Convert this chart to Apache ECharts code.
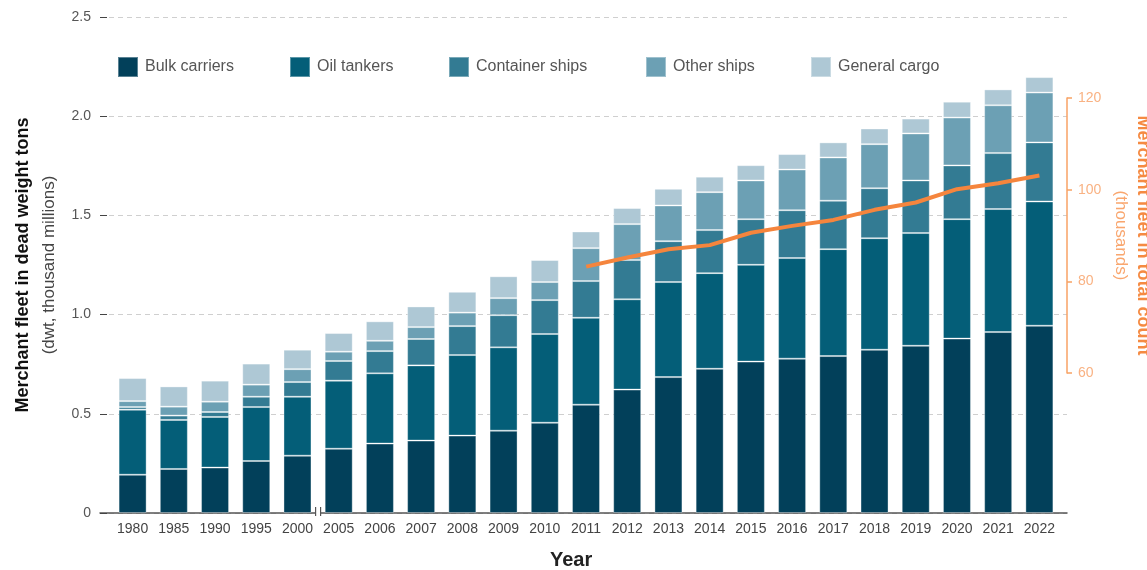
<!DOCTYPE html>
<html>
<head>
<meta charset="utf-8">
<script src="https://cdn.jsdelivr.net/npm/echarts@6/dist/echarts.min.js"></script>
<style>
html,body{margin:0;padding:0;background:#fff;}
#chart{width:1147px;height:570px;}
</style>
</head>
<body>
<div id="chart"></div>
<script>
// ---- Data ----
var years = ['1980','1985','1990','1995','2000','2005','2006','2007','2008','2009','2010','2011','2012','2013','2014','2015','2016','2017','2018','2019','2020','2021','2022'];
var bulkCarriers = [0.193,0.222,0.229,0.262,0.289,0.324,0.350,0.365,0.390,0.415,0.455,0.546,0.622,0.685,0.727,0.763,0.778,0.791,0.823,0.843,0.879,0.912,0.944];
var oilTankers   = [0.328,0.247,0.255,0.272,0.297,0.343,0.354,0.379,0.406,0.420,0.447,0.438,0.455,0.479,0.482,0.488,0.507,0.539,0.562,0.568,0.602,0.620,0.626];
var containerShips = [0.013,0.022,0.025,0.052,0.074,0.099,0.112,0.133,0.146,0.162,0.171,0.185,0.198,0.206,0.217,0.230,0.241,0.244,0.252,0.265,0.271,0.282,0.298];
var otherShips   = [0.030,0.045,0.052,0.061,0.065,0.047,0.052,0.060,0.068,0.086,0.091,0.166,0.181,0.180,0.191,0.195,0.205,0.218,0.222,0.237,0.241,0.241,0.251];
var generalCargo = [0.116,0.102,0.106,0.106,0.098,0.094,0.098,0.104,0.105,0.110,0.111,0.084,0.081,0.084,0.078,0.077,0.078,0.076,0.079,0.075,0.080,0.080,0.078];
// total count (thousands), available from 2011
var fleetCount = [null,null,null,null,null,null,null,null,null,null,null,83.2,85.2,87.0,87.9,90.6,92.1,93.4,95.6,97.2,100.1,101.4,103.1];
var leftTicks = [0, 0.5, 1.0, 1.5, 2.0, 2.5];
var rightTicks = [60, 80, 100, 120];

var seriesNames = ['Bulk carriers','Oil tankers','Container ships','Other ships','General cargo'];
var seriesValues = [bulkCarriers, oilTankers, containerShips, otherShips, generalCargo];
var colors = ['#02405a','#045e78','#337b93','#6ca0b4','#aec8d5'];
var legendLeft = [117, 289, 448, 645, 810];

var FONT = 'Liberation Sans, Arial, Helvetica, sans-serif';
var XMIN = -0.8, XMAX = 22.67;

var chart = echarts.init(document.getElementById('chart'), null, {renderer:'canvas'});

var series = seriesNames.map(function(name, k){
  return {
    name: name, type: 'bar', stack: 'dwt',
    xAxisIndex: 1, yAxisIndex: 1,
    barWidth: 28,
    itemStyle: { color: colors[k], borderColor: 'rgba(255,255,255,0.35)', borderWidth: 1 },
    emphasis: { disabled: true },
    data: seriesValues[k]
  };
});
series.push({
  name: 'Merchant fleet count', type: 'line',
  xAxisIndex: 2, yAxisIndex: 2,
  symbol: 'none', smooth: false,
  lineStyle: { color: '#f5853d', width: 4 },
  emphasis: { disabled: true },
  data: fleetCount.map(function(v, i){ return [i, v]; }).filter(function(p){ return p[1] !== null; })
});

var option = {
  animation: false,
  textStyle: { fontFamily: FONT },
  title: {
    text: 'Year', left: 545, top: 545,
    textStyle: { fontSize: 20, fontWeight: 'bold', color: '#222', fontFamily: FONT }
  },
  legend: seriesNames.map(function(name, k){
    return {
      data: [name], left: legendLeft[k], top: 56, padding: 0,
      itemWidth: 20, itemHeight: 20, itemGap: 0,
      icon: 'rect',
      selectedMode: false,
      textStyle: { fontSize: 16, color: '#555', fontFamily: FONT, padding: [0,0,0,2] }
    };
  }),
  grid: [
    // frame grid: gridlines, left axis, baseline
    { left: 100, right: 80, top: 17, bottom: 57, containLabel: false, outerBoundsMode: 'none' },
    // bar grid: category band area
    { left: 112, right: 87, top: 17, bottom: 57, containLabel: false, outerBoundsMode: 'none' },
    // count grid: right axis 60-120
    { left: 100, right: 80, top: 98, bottom: 197, containLabel: false, outerBoundsMode: 'none' }
  ],
  xAxis: [
    {
      type: 'value', gridIndex: 0, min: 0, max: 1,
      axisLine: { show: true, onZero: false, lineStyle: { color: '#555', width: 1.5 } },
      axisTick: { show: false }, splitLine: { show: false }, axisLabel: { show: false }
    },
    {
      type: 'category', gridIndex: 1, data: years,
      axisLine: { show: false }, axisTick: { show: false }, splitLine: { show: false },
      axisLabel: { show: true, interval: 0, margin: 9, fontSize: 14, color: '#444', fontFamily: FONT }
    },
    {
      type: 'value', gridIndex: 2, min: XMIN, max: XMAX, show: false
    }
  ],
  yAxis: [
    {
      type: 'value', gridIndex: 0, min: 0, max: 2.5, interval: 0.5,
      axisLine: { show: false, onZero: false },
      axisTick: { show: true, inside: true, length: 7, lineStyle: { color: '#444', width: 1 } },
      splitLine: { show: true, lineStyle: { color: '#cfcfcf', type: [5,4], width: 1 } },
      axisLabel: {
        margin: 9, fontSize: 14, color: '#555', fontFamily: FONT,
        formatter: function(v){ return v === 0 ? '0' : v.toFixed(1); }
      },
      name: '{b|Merchant fleet in dead weight tons}\n{n|(dwt, thousand millions)}',
      nameLocation: 'middle', nameRotate: 90, nameGap: 38,
      nameTextStyle: {
        align: 'center',
        rich: {
          b: { fontSize: 18, fontWeight: 'bold', color: '#111', fontFamily: FONT, lineHeight: 26, align: 'center' },
          n: { fontSize: 17, color: '#444', fontFamily: FONT, lineHeight: 26, align: 'center' }
        }
      }
    },
    {
      type: 'value', gridIndex: 1, min: 0, max: 2.5, show: false,
      splitLine: { show: false }
    },
    {
      type: 'value', gridIndex: 2, position: 'right', min: 60, max: 120, interval: 20,
      axisLine: { show: true, onZero: false, lineStyle: { color: '#f8a264', width: 1.5 } },
      axisTick: { show: true, inside: false, length: 5, lineStyle: { color: '#f8a264', width: 1.5 } },
      splitLine: { show: false },
      axisLabel: { margin: 11, fontSize: 14, color: '#f9b283', fontFamily: FONT },
      name: '{b|Merchant fleet in total count}\n{n|(thousands)}',
      nameLocation: 'middle', nameRotate: -90, nameGap: 31,
      nameTextStyle: {
        align: 'center',
        rich: {
          b: { fontSize: 18, fontWeight: 'bold', color: '#f58a42', fontFamily: FONT, lineHeight: 22, align: 'center' },
          n: { fontSize: 17, color: '#f9a66e', fontFamily: FONT, lineHeight: 22, align: 'center' }
        }
      }
    }
  ],
  series: series
};

chart.setOption(option);

// axis break marker between 2000 and 2005, positioned via the axis scale
var x2000 = chart.convertToPixel({ xAxisIndex: 1 }, '2000');
var x2005 = chart.convertToPixel({ xAxisIndex: 1 }, '2005');
var bx = (x2000 + x2005) / 2;
var by = chart.convertToPixel({ yAxisIndex: 0 }, 0);
chart.setOption({
  graphic: [
    { type: 'rect', shape: { x: bx - 2.5, y: by - 3, width: 5, height: 6 }, style: { fill: '#fff' }, z: 100 },
    { type: 'line', shape: { x1: bx - 2.5, y1: by - 6, x2: bx - 2.5, y2: by + 3 }, style: { stroke: '#555', lineWidth: 1.2 }, z: 101 },
    { type: 'line', shape: { x1: bx + 2.5, y1: by - 6, x2: bx + 2.5, y2: by + 3 }, style: { stroke: '#555', lineWidth: 1.2 }, z: 101 }
  ]
});
</script>
</body>
</html>
